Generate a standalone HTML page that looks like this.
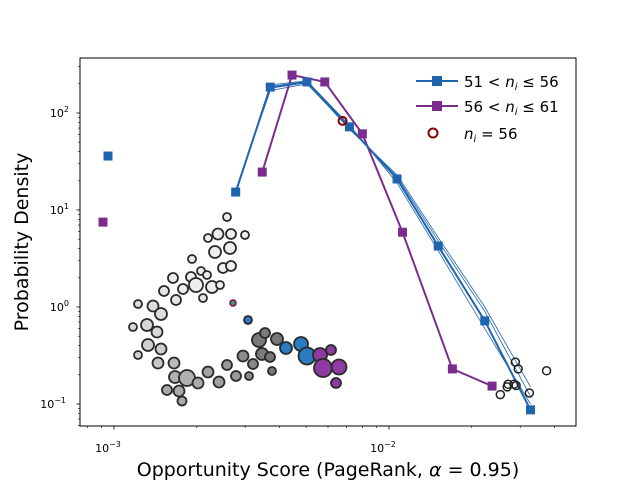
<!DOCTYPE html>
<html><head><meta charset="utf-8"><style>
body{margin:0;background:#fff;}
svg text{font-family:"DejaVu Sans","Liberation Sans",sans-serif;}
</style></head><body>
<svg id="chart" width="640" height="480" xmlns="http://www.w3.org/2000/svg">
<rect x="0" y="0" width="640" height="480" fill="#fff"/>
<g id="net"></g>
<g id="series"></g>
<rect x="80" y="58" width="496" height="368" fill="none" stroke="#000" stroke-width="1"/>
<g id="axes"></g>
<g id="legend">
 <line x1="416" y1="81" x2="458" y2="81" stroke="#1f65ad" stroke-width="2"/>
 <rect x="432" y="76" width="10" height="10" fill="#1f65ad"/>
 <text x="464" y="87" font-size="15">51 &lt; <tspan font-style="italic">n</tspan><tspan font-style="italic" font-size="10" dy="3">i</tspan><tspan dy="-3"> ≤ 56</tspan></text>
 <line x1="416" y1="106" x2="458" y2="106" stroke="#7b2d8e" stroke-width="2"/>
 <rect x="432" y="101" width="10" height="10" fill="#7b2d8e"/>
 <text x="464" y="112" font-size="15">56 &lt; <tspan font-style="italic">n</tspan><tspan font-style="italic" font-size="10" dy="3">i</tspan><tspan dy="-3"> ≤ 61</tspan></text>
 <circle cx="433" cy="133" r="4.5" fill="none" stroke="#8b0000" stroke-width="2"/>
 <text x="464" y="139" font-size="15"><tspan font-style="italic">n</tspan><tspan font-style="italic" font-size="10" dy="3">i</tspan><tspan dy="-3"> = 56</tspan></text>
</g>
<text x="328" y="476" font-size="19" text-anchor="middle">Opportunity Score (PageRank, <tspan font-style="italic">α</tspan> = 0.95)</text>
<text transform="translate(28,242) rotate(-90)" font-size="19" text-anchor="middle">Probability Density</text>
</svg>
<script>
const blueX=[2.77e-3,3.70e-3,5.03e-3,7.18e-3,10.7e-3,15.1e-3,22.3e-3,32.7e-3];
const blueY=[15.3,185,209,72,20.9,4.25,0.72,0.087];
const blueIsoX=[0.951e-3];
const blueIsoY=[36];
const purpleX=[3.46e-3,4.44e-3,5.84e-3,8.0e-3,11.2e-3,17.0e-3,23.7e-3];
const purpleY=[24.6,246,209,61,5.9,0.23,0.153];
const purpleIsoX=[0.912e-3];
const purpleIsoY=[7.5];
const thin1Y=[16,170,200,70,22,4.8,0.9,0.12];
const thin2Y=[14.5,195,215,75,19,3.8,0.6,0.1];
const thin3Y=[15,180,205,68,23,5.2,1.0,0.15];
const redX=[6.78e-3];
const redY=[83];
const openX=[28.8e-3,29.5e-3,37.4e-3,27.1e-3,26.9e-3,28.5e-3,25.4e-3,32.4e-3,29.0e-3];
const openY=[0.27,0.23,0.22,0.16,0.15,0.16,0.125,0.13,0.155];
const xTicks=[1e-3,1e-2];
const xTickExp=["−3","−2"];
const yTicks=[0.1,1,10,100];
const yTickExp=["−1","0","1","2"];

const NS="http://www.w3.org/2000/svg";
function X(v){return 114+275*Math.log10(v/1e-3);}
function Y(v){return 307-97*Math.log10(v);}
function mk(tag,attrs,parent){const e=document.createElementNS(NS,tag);for(const k in attrs)e.setAttribute(k,attrs[k]);parent.appendChild(e);return e;}
const S=document.getElementById('series'),A=document.getElementById('axes'),N=document.getElementById('net');

const nodes=[[227,217,4,"#eee"],[218,234,5.5,"#eee"],[231,234,5,"#eee"],[208,238,4,"#eee"],[245,235,4,"#eee"],[215,252,6,"#eee"],[230,248,6,"#eee"],[192,259,4,"#eee"],[223,268,5,"#eee"],[231,266,5,"#eee"],[201,271,4,"#eee"],[207,275,4,"#eee"],[173,278,5,"#eee"],[191,277,5,"#eee"],[196,285,7,"#eee"],[212,287,6,"#eee"],[220,285,4,"#eee"],[183,289,5,"#eee"],[164,291,5,"#e6e6e6"],[176,300,5,"#e6e6e6"],[203,298,4,"#e6e6e6"],
[138,304,4,"#ddd"],[153,306,5.5,"#ddd"],[161,314,6,"#ddd"],[133,327,4,"#d8d8d8"],[147,325,6,"#d8d8d8"],[157,332,5.5,"#d8d8d8"],[148,345,6,"#d0d0d0"],[161,349,5.5,"#d0d0d0"],[138,355,4,"#d0d0d0"],[158,363,5.5,"#c8c8c8"],
[174,363,5.5,"#bbb"],[175,377,6,"#b0b0b0"],[187,378,8,"#b0b0b0"],[198,383,5.5,"#aaa"],[167,390,5,"#aaa"],[179,391,5.5,"#aaa"],[182,401,4.5,"#aaa"],[208,372,5.5,"#a0a0a0"],[219,382,5.5,"#a0a0a0"],[227,365,5,"#999"],[236,376,5,"#999"],[243,356,5.5,"#8c8c8c"],[249,376,4,"#8c8c8c"],[253,364,5,"#888"],[259,340,7,"#7a7a7a"],[265,333,5,"#7a7a7a"],[262,354,6,"#7a7a7a"],[270,357,5,"#777"],[272,371,4,"#777"],[277,339,6,"#777"],
[248,320,4,"#2a7bc0"],[286,348,6,"#2a7bc0"],[301,344,7,"#2a7bc0"],[307,356,8.5,"#2a7bc0"],
[320,355,7,"#8e3aa3"],[331,350,5,"#8e3aa3"],[323,368,9,"#8e3aa3"],[339,367,7.5,"#8e3aa3"],[336,383,5,"#8e3aa3"]];
for(let i=0;i<nodes.length;i++){const n=nodes[i];
 const c=mk('circle',{cx:n[0],cy:n[1],r:n[2],fill:n[3],stroke:"#2a2a2a","stroke-width":1.8},N);
 
 }
const rn=mk('circle',{cx:233,cy:303,r:3,fill:"#2a9d8f",stroke:"#8b0030","stroke-width":1.5},N);



function line(xs,ys,color,w,name){const p=mk('polyline',{points:xs.map((x,i)=>X(x)+","+Y(ys[i])).join(" "),fill:"none",stroke:color,"stroke-width":w},S);
 
 }
function squares(xs,ys,color,name){for(let i=0;i<xs.length;i++){const r=mk('rect',{x:X(xs[i])-4.5,y:Y(ys[i])-4.5,width:9,height:9,fill:color},S);
 
 }}
line(blueX,thin1Y,"#1f65ad",0.8,"blue-thin-line");
line(blueX,thin2Y,"#1f65ad",0.8,"blue-thin-line");
line(blueX,thin3Y,"#1f65ad",0.8,"blue-thin-line");
line(purpleX,purpleY,"#7b2d8e",2,"purple-line");
line(blueX,blueY,"#1f65ad",2,"blue-line");
squares(purpleX,purpleY,"#7b2d8e","purple-point");
squares(purpleIsoX,purpleIsoY,"#7b2d8e","purple-point");
squares(blueX,blueY,"#1f65ad","blue-point");
squares(blueIsoX,blueIsoY,"#1f65ad","blue-point");
for(let i=0;i<openX.length;i++){const c=mk('circle',{cx:X(openX[i]),cy:Y(openY[i]),r:4,fill:"none",stroke:"#222","stroke-width":1.5},S);
 
 }
for(let i=0;i<redX.length;i++){const c=mk('circle',{cx:X(redX[i]),cy:Y(redY[i]),r:4,fill:"none",stroke:"#8b0000","stroke-width":2},S);
 
 }

for(let d=-4;d<=-2;d++)for(let m=1;m<10;m++){const v=m*Math.pow(10,d);const x=X(v);if(x<80||x>576)continue;
 mk('line',{x1:x,y1:426,x2:x,y2:m==1?429.5:428,stroke:"#000","stroke-width":m==1?0.8:0.6},A);}
for(let d=-2;d<=2;d++)for(let m=1;m<10;m++){const v=m*Math.pow(10,d);const y=Y(v);if(y<58||y>426)continue;
 mk('line',{x1:80,y1:y,x2:m==1?76.5:78,y2:y,stroke:"#000","stroke-width":m==1?0.8:0.6},A);}
for(let i=0;i<xTicks.length;i++){const t=mk('text',{x:X(xTicks[i])-6,y:452,"font-size":11,"text-anchor":"middle"},A);
 
 
 t.textContent="10";
 const s=mk('tspan',{"font-size":8,dy:-5},t);s.textContent=xTickExp[i];}
for(let i=0;i<yTicks.length;i++){const t=mk('text',{x:yTickExp[i].length>1?66:69,y:Y(yTicks[i])+4,"font-size":11,"text-anchor":"end"},A);
 
 
 t.textContent="10";
 const s=mk('tspan',{"font-size":8,dy:-5},t);s.textContent=yTickExp[i];}
</script>
</body></html>
